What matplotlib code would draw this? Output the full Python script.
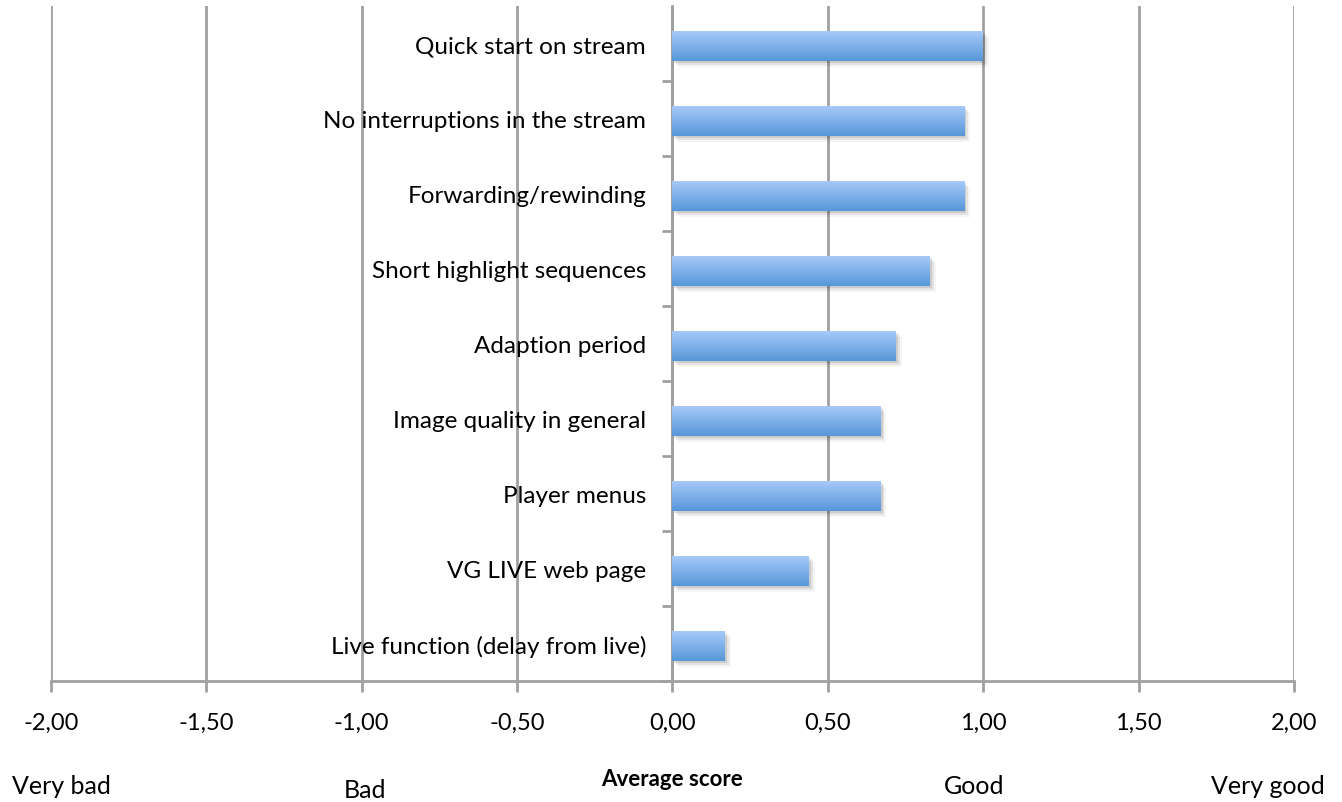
import numpy as np
import matplotlib.pyplot as plt
from matplotlib.patches import Rectangle
from matplotlib.colors import LinearSegmentedColormap

categories = [
    "Live function (delay from live)",
    "VG LIVE web page",
    "Player menus",
    "Image quality in general",
    "Adaption period",
    "Short highlight sequences",
    "Forwarding/rewinding",
    "No interruptions in the stream",
    "Quick start on stream",
]
scores = [0.17, 0.44, 0.67, 0.67, 0.72, 0.83, 0.94, 0.94, 1.00]
x_ticks = [-2.0, -1.5, -1.0, -0.5, 0.0, 0.5, 1.0, 1.5, 2.0]
scale_labels = [(-1.965, "Very bad"), (-0.99, "Bad"), (0.97, "Good"), (1.915, "Very good")]

plt.rcParams['font.family'] = ['Lato', 'DejaVu Sans']
grey = "#a0a0a0"

fig = plt.figure(figsize=(13.42, 8.03), dpi=100)
ax = fig.add_axes([0.038, 0.1507, 0.9262, 0.8406])

y = np.arange(len(categories)) - 0.03
bar_h = 0.4
bars = ax.barh(y, scores, height=bar_h, color="none", edgecolor="none", zorder=3)

# vertical gradient for each bar, plus a soft drop shadow
grad = np.linspace(0, 1, 64).reshape(-1, 1)
cmap = LinearSegmentedColormap.from_list("barfill", ["#a9cbfa", "#5797d9"])
for rect in bars:
    x0, y0 = rect.get_x(), rect.get_y()
    w, h = rect.get_width(), rect.get_height()
    for i, a in enumerate([0.10, 0.07, 0.04]):
        d = 0.006 * (i + 1)
        ax.add_patch(Rectangle((x0 + d, y0 - 0.03 * (i + 1)), w, h,
                               facecolor="black", alpha=a, edgecolor="none", zorder=2))
    im = ax.imshow(grad, cmap=cmap, aspect="auto", extent=(x0, x0 + w, y0, y0 + h),
                   origin="upper", zorder=3)
    im.set_clip_path(rect)

ax.set_xlim(-2, 2)
ax.set_ylim(-0.5, len(categories) - 0.5)
ax.set_xticks(x_ticks)
ax.set_xticklabels([f"{v:.2f}".replace(".", ",") for v in x_ticks], fontsize=17)
ax.xaxis.grid(True, color=grey, linewidth=2, zorder=1)
ax.set_axisbelow(True)
ax.tick_params(axis="x", length=8, width=2, color=grey, pad=14)

# y axis sits at zero, ticks between categories
for s in ["top", "right"]:
    ax.spines[s].set_visible(False)
ax.spines["left"].set_position(("data", 0))
ax.spines["left"].set_color(grey)
ax.spines["left"].set_linewidth(2)
ax.spines["bottom"].set_color(grey)
ax.spines["bottom"].set_linewidth(2)
ax.set_yticks(np.arange(len(categories)) - 0.5)
ax.set_yticklabels([])
ax.tick_params(axis="y", length=7, width=2, color=grey)

for yi, name in zip(y, categories):
    ax.text(-0.085, yi, name, ha="right", va="center", fontsize=17.5, zorder=4)

ax.text(0, -1.8, "Average score", ha="center", va="center",
        fontsize=16, fontweight="bold", clip_on=False)
for xv, lab in scale_labels:
    yv = -1.95 if lab == "Bad" else -1.89
    ax.text(xv, yv, lab, ha="center", va="center", fontsize=18, clip_on=False)

fig.savefig("out.png", dpi=100)
